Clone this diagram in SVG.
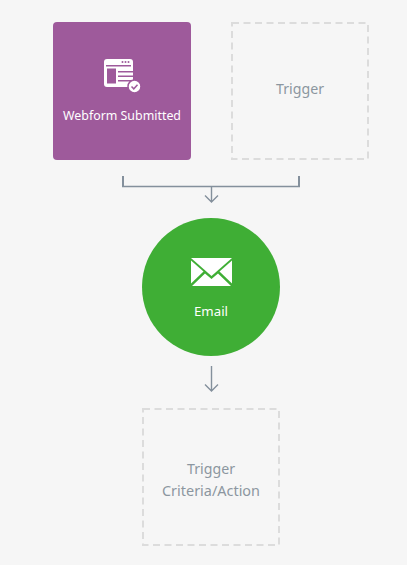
<svg xmlns="http://www.w3.org/2000/svg" width="407" height="565" viewBox="0 0 407 565">
<style>
.t{font-family:"Noto Sans","Lato",sans-serif;font-size:13px;text-anchor:middle}
.w{fill:#fff}
.g{fill:#8c96a0;font-size:14px}
.d{fill:none;stroke:#dcdcdc;stroke-width:2;stroke-dasharray:7 4.500}
.c{fill:none;stroke:#84909c;stroke-width:2}
.h{fill:none;stroke:#84909c;stroke-width:1.300}
.a{fill:none;stroke:#84909c;stroke-width:1.400}
</style>
<rect width="407" height="565" fill="#f6f6f6"/>
<g id="connectors">
<path class="c" d="M123 176V187M299 176V187"/>
<path class="h" d="M122 186.500H300"/>
<path class="a" d="M211.500 187V201M205 195.500L211.500 202L218 195.500"/>
<path class="a" d="M211.500 366V391M205 384.500L211.500 391L218 384.500"/>
</g>
<g id="webform">
<rect x="53" y="22" width="138" height="138" rx="4" fill="#9e5a9b"/>
<rect x="104" y="59" width="29" height="28" rx="3" fill="#fff"/>
<g fill="#9e5a9b">
<rect x="106" y="65" width="25" height="1.500"/>
<circle cx="122.500" cy="62" r="1"/><circle cx="125.500" cy="62" r="1"/><circle cx="128.500" cy="62" r="1"/>
<rect x="107" y="68.500" width="9" height="15"/>
<rect x="118" y="71" width="15" height="1.500"/>
<rect x="118" y="75.500" width="15" height="1.500"/>
<rect x="118" y="80" width="15" height="1.500"/>
</g>
<circle cx="134.500" cy="86.500" r="6.500" fill="#fff" stroke="#9e5a9b" stroke-width="1.500"/>
<path d="M131.500 86.500L133.800 88.800L137.500 84.800" fill="none" stroke="#9e5a9b" stroke-width="1.500"/>
<text class="t w" x="122" y="120" textLength="118" lengthAdjust="spacingAndGlyphs">Webform Submitted</text>
</g>
<g id="trigger1">
<rect class="d" x="232" y="23" width="136" height="136"/>
<text class="t g" x="300" y="94" textLength="48" lengthAdjust="spacingAndGlyphs">Trigger</text>
</g>
<g id="email">
<circle cx="211" cy="287" r="69" fill="#3fae35"/>
<path d="M191 258H232L211.500 276Z" fill="#fff"/>
<path d="M191 260.500L203.500 271.500L191 283.500Z" fill="#fff"/>
<path d="M232 260.500L219.500 271.500L232 283.500Z" fill="#fff"/>
<path d="M192 286L205 273.500L211.500 279L218 273.500L231 286Z" fill="#fff"/>
<text class="t w" x="211" y="316" textLength="34" lengthAdjust="spacingAndGlyphs">Email</text>
</g>
<g id="trigger2">
<rect class="d" x="143" y="409" width="136" height="136"/>
<text class="t g" x="211" y="474" textLength="48" lengthAdjust="spacingAndGlyphs">Trigger</text>
<text class="t g" x="211" y="496" textLength="98" lengthAdjust="spacingAndGlyphs">Criteria/Action</text>
</g>
</svg>
